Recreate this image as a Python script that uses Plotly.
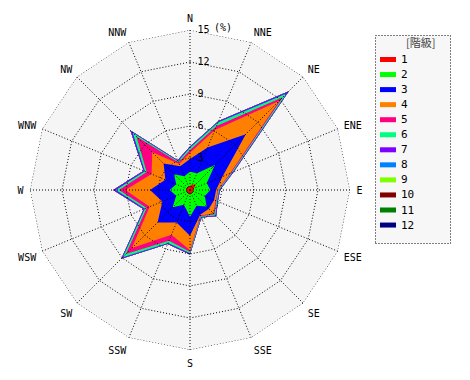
import numpy as np
import plotly.graph_objects as go

W, H = 470, 380

directions = ["N", "NNE", "NE", "ENE", "E", "ESE", "SE", "SSE",
              "S", "SSW", "SW", "WSW", "W", "WNW", "NW", "NNW"]
class_names = ["1", "2", "3", "4", "5", "6", "7", "8", "9", "10", "11", "12"]
class_colors = ["#ff0000", "#00ff00", "#0000ff", "#ff8000", "#ff0080", "#00ff80",
                "#8000ff", "#0080ff", "#80ff00", "#800000", "#008000", "#000080"]

# frequency (%) of each class per direction (N, NNE, ... NNW)
c1 = [0.4, 0.5, 0.8, 0.4, 0.3, 0.3, 0.3, 0.3, 0.5, 0.3, 0.4, 0.3, 0.4, 0.3, 0.4, 0.3]
c2 = [1.3, 1.2, 2.5, 1.3, 1.6, 1.2, 1.9, 1.3, 2.0, 1.2, 1.9, 1.1, 1.5, 1.1, 1.7, 1.1]
c3 = [1.2, 2.6, 4.1, 1.6, 0.55, 0.95, 0.3, 0.9, 1.8, 1.8, 2.0, 1.4, 1.85, 1.1, 1.4, 1.0]
c4 = [0.6, 1.8, 4.4, 0.75, 0.15, 0.15, 0.6, 0.05, 1.35, 1.25, 3.4, 1.3, 2.3, 1.4, 1.5, 0.25]
c5 = [0.25, 0.4, 0.5, 0.15, 0.05, 0.07, 0.15, 0.08, 0.15, 0.6, 0.8, 0.3, 0.6, 0.5, 2.1, 0.15]
c6 = [0.2, 0.35, 0.5, 0.12, 0.08, 0.08, 0.12, 0.08, 0.12, 0.22, 0.4, 0.18, 0.3, 0.18, 0.5, 0.12]
c7 = [0.12, 0.15, 0.3, 0.1, 0.08, 0.08, 0.1, 0.08, 0.12, 0.12, 0.2, 0.12, 0.25, 0.12, 0.3, 0.1]
c8 = [0.0] * 16
c9 = [0.0] * 16
c10 = [0.0] * 16
c11 = [0.0] * 16
c12 = [0.0] * 16

radial_ticks = [3, 6, 9, 12, 15]
radial_max = 15

classes = [c1, c2, c3, c4, c5, c6, c7, c8, c9, c10, c11, c12]
cum = np.cumsum(np.array(classes), axis=0)

theta_closed = directions + [directions[0]]
FONT = "DejaVu Sans Mono, Noto Sans CJK JP, monospace"

fig = go.Figure()

# stacked areas: largest cumulative first so smaller classes lie on top
for i in range(len(classes) - 1, -1, -1):
    r = list(cum[i]) + [cum[i][0]]
    fig.add_trace(go.Scatterpolar(
        r=r, theta=theta_closed, mode="lines", fill="toself",
        fillcolor=class_colors[i], line=dict(width=0, color=class_colors[i]),
        name=class_names[i], showlegend=False, hoverinfo="skip"))

# dotted grid drawn above the areas
ring_r, ring_t = [], []
for v in radial_ticks:
    ring_r += [v] * 17 + [None]
    ring_t += theta_closed + [None]
spoke_r, spoke_t = [], []
for d in directions:
    spoke_r += [0, radial_max, None]
    spoke_t += [d, d, None]
grid_line = dict(color="black", width=1, dash="1px,2px")
fig.add_trace(go.Scatterpolar(r=ring_r, theta=ring_t, mode="lines", line=grid_line,
                              showlegend=False, hoverinfo="skip", connectgaps=False))
fig.add_trace(go.Scatterpolar(r=spoke_r, theta=spoke_t, mode="lines", line=grid_line,
                              showlegend=False, hoverinfo="skip", connectgaps=False))

cx, cy, R = 190, 190, 160
fig.update_layout(
    width=W, height=H, margin=dict(l=0, r=0, t=0, b=0, pad=0, autoexpand=False),
    paper_bgcolor="white", showlegend=False,
    font=dict(family=FONT, size=10, color="black"),
    polar=dict(
        domain=dict(x=[(cx - R) / W, (cx + R) / W], y=[(H - cy - R) / H, (H - cy + R) / H]),
        bgcolor="#f5f5f5", gridshape="linear",
        angularaxis=dict(type="category", categoryarray=directions, direction="clockwise",
                         rotation=90, showgrid=False, showline=False,
                         ticks="outside", ticklen=4, tickcolor="rgba(0,0,0,0)",
                         tickfont=dict(family=FONT, size=10, color="black")),
        radialaxis=dict(range=[0, radial_max], tickvals=radial_ticks,
                        ticktext=[str(v) for v in radial_ticks],
                        showgrid=False, showline=False, ticks="outside", ticklen=5,
                        tickcolor="rgba(0,0,0,0)", angle=90, tickangle=90,
                        tickfont=dict(family=FONT, size=10, color="black")),
    ),
)


def px(x):
    return x / W


def py(y):
    return 1 - y / H


# legend box (drawn manually to match the compact layout)
shapes = [dict(type="rect", xref="paper", yref="paper", x0=px(375.5), x1=px(450.5),
               y0=py(243.5), y1=py(35.5), fillcolor="#f7f7f7",
               line=dict(color="black", width=1, dash="1px,2px"), layer="below")]
annotations = [dict(text="[階級]", xref="paper", yref="paper", x=px(420), y=py(42),
                    xanchor="center", yanchor="middle", showarrow=False,
                    font=dict(family="Noto Sans CJK JP", size=11, color="#444444"))]
for i, (nm, col) in enumerate(zip(class_names, class_colors)):
    yc = 59.5 + i * 15.05
    shapes.append(dict(type="rect", xref="paper", yref="paper", x0=px(380), x1=px(396),
                       y0=py(yc + 2.5), y1=py(yc - 2.5), fillcolor=col, line=dict(width=0)))
    annotations.append(dict(text=nm, xref="paper", yref="paper", x=px(399), y=py(yc),
                            xanchor="left", yanchor="middle", showarrow=False,
                            font=dict(family=FONT, size=11, color="black")))
annotations.append(dict(text="(%)", xref="paper", yref="paper", x=px(212), y=py(27),
                        xanchor="left", yanchor="middle", showarrow=False,
                        font=dict(family=FONT, size=10, color="black")))
fig.update_layout(shapes=shapes, annotations=annotations)

fig.write_html("out.html", config={"displayModeBar": False},
               post_script="document.body.style.margin='0px';")
